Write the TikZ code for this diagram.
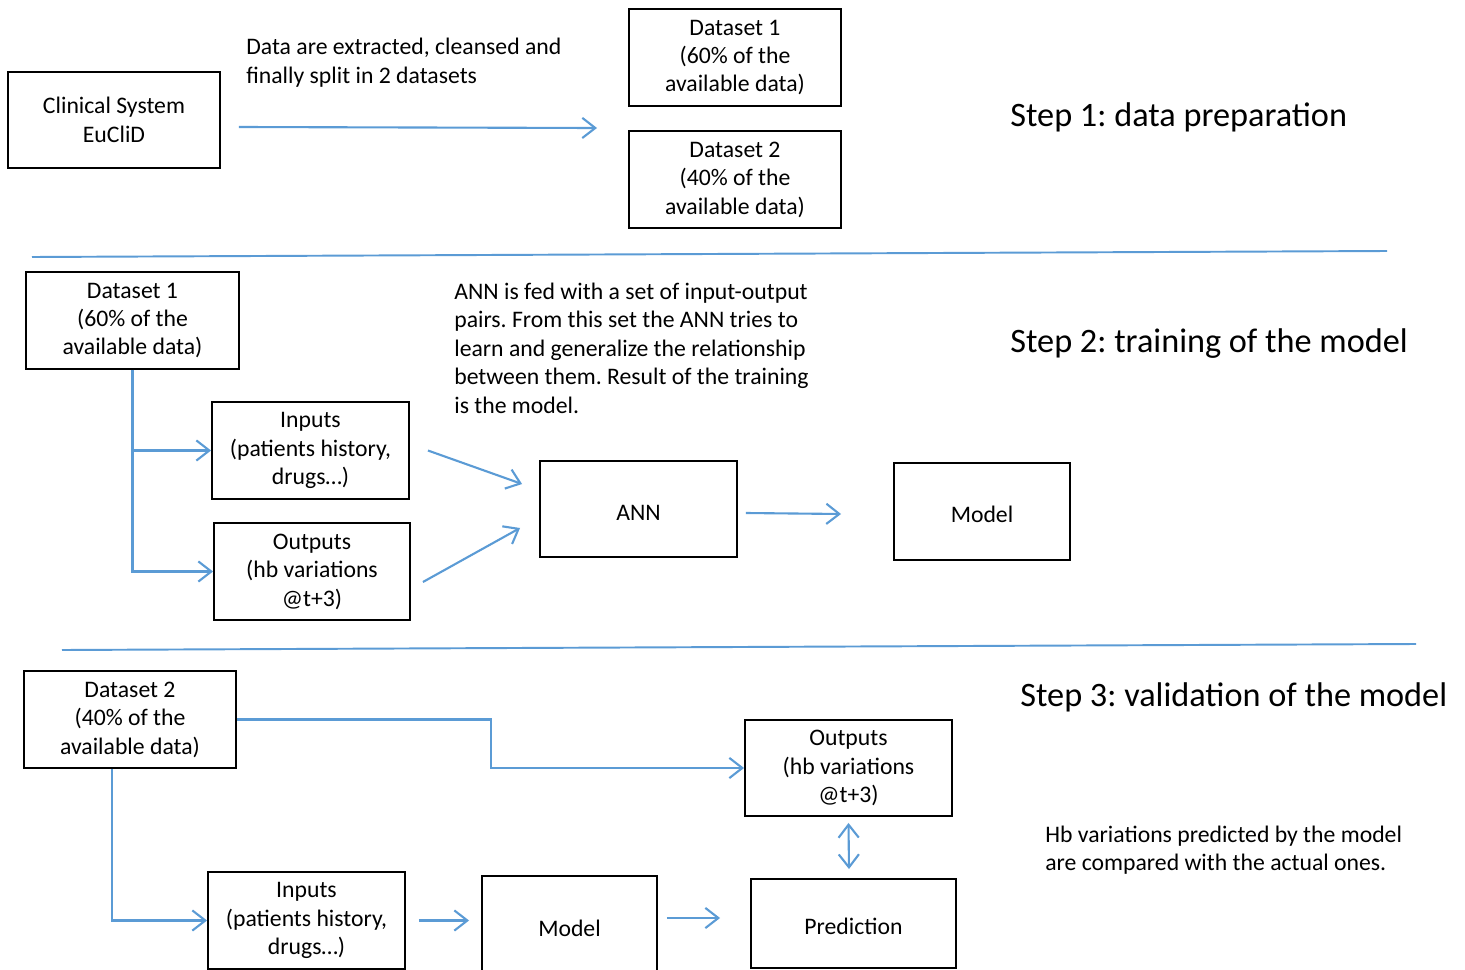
\documentclass[tikz,border=0pt]{standalone}
\usepackage{fontspec}
\setmainfont{Carlito}
\frenchspacing
\usetikzlibrary{arrows.meta,calc}
\definecolor{lblue}{RGB}{91,155,213}
\begin{document}
\begin{tikzpicture}[x=0.02cm,y=-0.02cm,
  box/.style={draw=black,line width=1.1pt,inner sep=0pt,align=center,font=\fontsize{13.5}{16.2}\selectfont,execute at begin node={\rule{0pt}{12.6pt}}},
  body/.style={inner sep=0pt,align=left,font=\fontsize{13.5}{16.2}\selectfont},
  title/.style={inner sep=0pt,anchor=west,font=\fontsize{19.5}{23}\selectfont},
  arr/.style={draw=lblue,line width=1.2pt,-{Straight Barb[length=7.4pt,width=11.5pt,line width=1.2pt]}},
  darr/.style={draw=lblue,line width=1.2pt,{Straight Barb[length=7.4pt,width=11.5pt,line width=1.2pt]}-{Straight Barb[length=7.4pt,width=11.5pt,line width=1.2pt]}},
  conn/.style={draw=lblue,line width=1.2pt},
  sep/.style={draw=lblue,line width=1.1pt}]
\useasboundingbox (0,0) rectangle (1465,970);
\clip (0,0) rectangle (1465,970);

% Step 1
\node[box,minimum width=4.24cm,minimum height=1.92cm] (clin) at (114,120) {Clinical System\\EuCliD};
\node[box,minimum width=4.24cm,minimum height=1.94cm] (d1top) at (735,57.5) {Dataset 1\\(60\% of the\\available data)};
\node[box,minimum width=4.24cm,minimum height=1.94cm] (d2top) at (735,179.5) {Dataset 2\\(40\% of the\\available data)};
\node[body,anchor=west] (t1) at (246,62.5) {Data are extracted, cleansed and\\finally split in 2 datasets};
\coordinate (split) at (597,128);
\draw[arr] ($(clin.east)+(18,7)$) -- (split);
\node[title] (s1) at (1010,117) {Step 1: data preparation};

\coordinate (l1a) at (32,257);
\coordinate (l1b) at (1387,251);
\draw[sep] (l1a) -- (l1b);

% Step 2
\node[box,minimum width=4.26cm,minimum height=1.94cm] (d1) at (132.5,320.5) {Dataset 1\\(60\% of the\\available data)};
\node[box,minimum width=3.94cm,minimum height=1.94cm] (in1) at (310.5,450.5) {Inputs\\(patients history,\\drugs\ldots)};
\node[box,minimum width=3.92cm,minimum height=1.94cm] (out1) at (312,571.5) {Outputs\\(hb variations\\@t+3)};
\node[box,minimum width=3.94cm,minimum height=1.92cm] (ann) at (638.5,509) {ANN};
\node[box,minimum width=3.52cm,minimum height=1.94cm] (model) at (982,511.5) {Model};
\node[body,anchor=west] (t2) at (454,348) {ANN is fed with a set of input-output\\pairs. From this set the ANN tries to\\learn and generalize the relationship\\between them. Result of the training\\is the model.};
\node[title] (s2) at (1010,344) {Step 2: training of the model};
\draw[arr] (d1.south) |- (in1.west);
\draw[arr] (d1.south) |- (out1.west);
\draw[arr] ($(in1.east)+(18,0)$) -- ($(ann.west)+(-17,-25)$);
\draw[arr] ($(out1.east)+(12,10.5)$) -- ($(ann.west)+(-19,19)$);
\draw[arr] ($(ann.east)+(8,4)$) -- ($(model.west)+(-52,2.5)$);

\coordinate (l2a) at (62,650);
\coordinate (l2b) at (1416,644);
\draw[sep] (l2a) -- (l2b);

% Step 3
\node[box,minimum width=4.24cm,minimum height=1.94cm] (d2) at (130,719.5) {Dataset 2\\(40\% of the\\available data)};
\node[box,minimum width=4.14cm,minimum height=1.92cm] (out3) at (848.5,768) {Outputs\\(hb variations\\@t+3)};
\node[box,minimum width=3.94cm,minimum height=1.94cm] (in3) at (306.5,920.5) {Inputs\\(patients history,\\drugs\ldots)};
\node[box,minimum width=3.5cm,minimum height=2.0cm] (m3) at (569.5,926) {Model};
\node[box,minimum width=4.1cm,minimum height=1.78cm] (pred) at (853.5,923.5) {Prediction};
\node[title] (s3) at (1020,697) {Step 3: validation of the model};
\node[body,anchor=west] (t3) at (1045,850) {Hb variations predicted by the model\\are compared with the actual ones.};

\draw[arr] (d2.east) -- ++(254,0) |- (out3.west);
\draw[arr] ($(d2.south)+(-18,0)$) |- (in3.west);
\draw[arr] ($(in3.east)+(13,0)$) -- ($(m3.west |- in3.east)+(-12,0)$);
\draw[arr] ($(m3.east)+(9,-8)$) -- ($(pred.west)+(-30,-5.5)$);
\draw[darr] ($(out3.south)+(0,6)$) -- ($(pred.north)+(-4.5,-9)$);
\end{tikzpicture}
\end{document}
